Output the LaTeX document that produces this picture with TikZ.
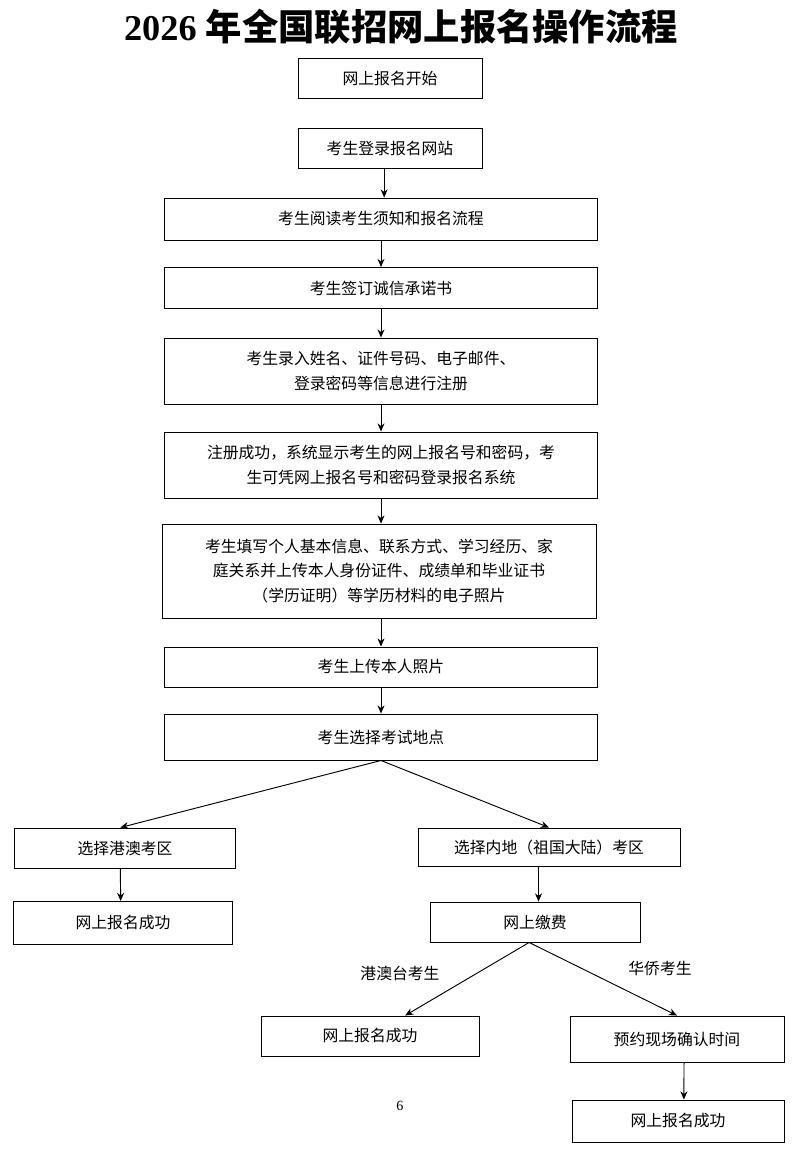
\documentclass[tikz,border=0pt]{standalone}
\usepackage{fontspec}
\setmainfont{Liberation Serif}
\newfontfamily\cjk{Noto Sans CJK SC}
\usetikzlibrary{positioning,arrows.meta}
\tikzset{stepbox/.style={draw, thick, inner sep=0pt, align=center, font=\cjk\fontsize{13.5}{21}\selectfont}}
\tikzset{arr/.style={draw, -{Stealth[length=7pt,width=6pt]}, thick}}
\tikzset{lbl/.style={font=\cjk\fontsize{13.5}{16}\selectfont}}
\begin{document}
\begin{tikzpicture}[x=0.03cm,y=-0.03cm]
  \useasboundingbox (0,0) rectangle (800,1153);
  \node[font=\fontsize{31}{34}\selectfont\bfseries] (title) at (401,27)
    {2026 {\cjk 年全国联招网上报名操作流程}};
  % main column
  \node[stepbox, minimum width=184*0.03cm, minimum height=40*0.03cm] (start) at (390,78) {网上报名开始};
  \node[stepbox, minimum width=184*0.03cm, minimum height=40*0.03cm] (login) at (390,148) {考生登录报名网站};
  \node[stepbox, minimum width=433*0.03cm, minimum height=42*0.03cm] (read) at (381,219) {考生阅读考生须知和报名流程};
  \node[stepbox, minimum width=433*0.03cm, minimum height=41*0.03cm] (sign) at (381,288) {考生签订诚信承诺书};
  \node[stepbox, minimum width=433*0.03cm, minimum height=66*0.03cm] (reg) at (381,371)
    {考生录入姓名、证件号码、电子邮件、\\登录密码等信息进行注册};
  \node[stepbox, minimum width=433*0.03cm, minimum height=66*0.03cm] (ok) at (381,465)
    {注册成功，系统显示考生的网上报名号和密码，考\\生可凭网上报名号和密码登录报名系统};
  \node[stepbox, minimum width=434*0.03cm, minimum height=94*0.03cm] (fill) at (379,571)
    {考生填写个人基本信息、联系方式、学习经历、家\\庭关系并上传本人身份证件、成绩单和毕业证书\\（学历证明）等学历材料的电子照片};
  \node[stepbox, minimum width=433*0.03cm, minimum height=40*0.03cm] (photo) at (381,667) {考生上传本人照片};
  \node[stepbox, minimum width=433*0.03cm, minimum height=46*0.03cm] (place) at (381,737) {考生选择考试地点};
  % branches
  \node[stepbox, minimum width=221*0.03cm, minimum height=40*0.03cm] (hk) at (125,848) {选择港澳考区};
  \node[stepbox, minimum width=219*0.03cm, minimum height=43*0.03cm] (hkdone) at (123,923) {网上报名成功};
  \node[stepbox, minimum width=262*0.03cm, minimum height=38*0.03cm] (main) at (549,847) {选择内地（祖国大陆）考区};
  \node[stepbox, minimum width=210*0.03cm, minimum height=40*0.03cm] (pay) at (535,922) {网上缴费};
  \node[stepbox, minimum width=218*0.03cm, minimum height=40*0.03cm] (paydone) at (370,1036) {网上报名成功};
  \node[stepbox, minimum width=214*0.03cm, minimum height=46*0.03cm] (book) at (677,1039) {预约现场确认时间};
  \node[stepbox, minimum width=212*0.03cm, minimum height=42*0.03cm] (bookdone) at (678,1121) {网上报名成功};
  \node[lbl] (lhk) at (400,973) {港澳台考生};
  \node[lbl] (lov) at (660,969) {华侨考生};
  \node[font=\fontsize{12}{14}\selectfont] (page) at (400,1106) {6};
  % connectors
  \draw[arr] ([xshift=-5pt]login.south) -- ([xshift=-5pt]login.south |- read.north);
  \draw[arr] (read) -- (sign);
  \draw[arr] (sign) -- (reg);
  \draw[arr] (reg) -- (ok);
  \draw[arr] (ok.south) -- (fill.north -| ok.south);
  \draw[arr] (fill.south -| photo.north) -- (photo);
  \draw[arr] (photo) -- (place);
  \draw[arr] (place.south) -- ([xshift=-4pt]hk.north);
  \draw[arr] (place.south) -- (main.north);
  \draw[arr] ([xshift=-4pt]hk.south) -- ([xshift=-2pt]hkdone.north);
  \draw[arr] ([xshift=-9pt]main.south) -- ([xshift=3pt]pay.north);
  \draw[arr] ([xshift=-5pt]pay.south) -- ([xshift=30pt]paydone.north);
  \draw[arr] ([xshift=-5pt]pay.south) -- (book.north);
  \draw[arr] ([xshift=6pt]book.south) -- ([xshift=5pt]bookdone.north);
\end{tikzpicture}
\end{document}
